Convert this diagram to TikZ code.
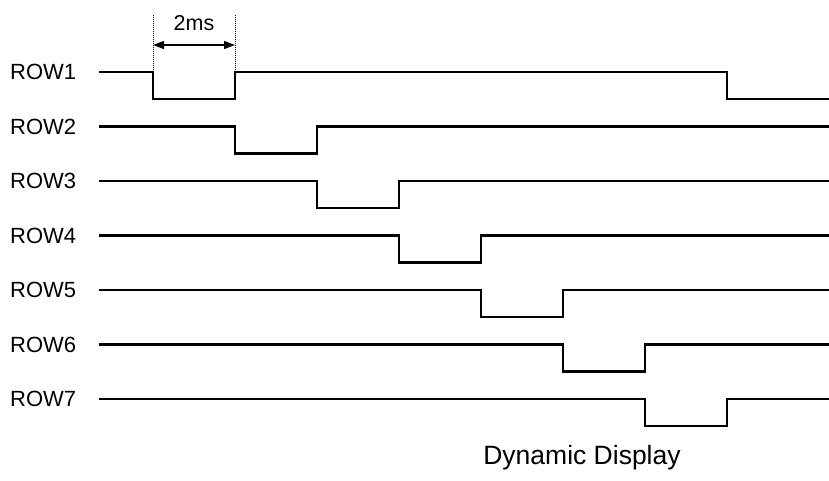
\documentclass[tikz,border=0pt]{standalone}
\usepackage{fontspec}
\setmainfont{Liberation Sans}
\usetikzlibrary{positioning,arrows.meta}

\begin{document}
\begin{tikzpicture}[x=1pt,y=-1pt,
                    rowlabel/.style={anchor=west, inner sep=0pt, font=\fontsize{22}{22}\selectfont},
                    wave/.style={line width=2.7pt, line cap=rect, line join=miter},
                    guide/.style={densely dotted, line width=1pt},
                    span/.style={{Triangle[length=11pt,width=8pt]}-{Triangle[length=11pt,width=8pt]}, line width=1.2pt}
                ]
                    \useasboundingbox (0,0) rectangle (829,480);
                    \node[rowlabel] (row1) at (10,72) {ROW1};
                    \node[rowlabel] (row2) at (10,126.5) {ROW2};
                    \node[rowlabel] (row3) at (10,181) {ROW3};
                    \node[rowlabel] (row4) at (10,235.5) {ROW4};
                    \node[rowlabel] (row5) at (10,290) {ROW5};
                    \node[rowlabel] (row6) at (10,344.5) {ROW6};
                    \node[rowlabel] (row7) at (10,399) {ROW7};

                    \draw[wave] (100,72) -- (153,72) -- (153,99) -- (235,99) -- (235,72) -- (727,72) -- (727,99) -- (829,99);
                    \draw[wave] (100,126.5) -- (235,126.5) -- (235,153.5) -- (317,153.5) -- (317,126.5) -- (829,126.5);
                    \draw[wave] (100,181) -- (317,181) -- (317,208) -- (399,208) -- (399,181) -- (829,181);
                    \draw[wave] (100,235.5) -- (399,235.5) -- (399,262.5) -- (481,262.5) -- (481,235.5) -- (829,235.5);
                    \draw[wave] (100,290) -- (481,290) -- (481,317) -- (563,317) -- (563,290) -- (829,290);
                    \draw[wave] (100,344.5) -- (563,344.5) -- (563,371.5) -- (645,371.5) -- (645,344.5) -- (829,344.5);
                    \draw[wave] (100,399) -- (645,399) -- (645,426) -- (727,426) -- (727,399) -- (829,399);

                    % 2ms marker
                    \coordinate (start) at (153,45);
                    \coordinate (stop) at (235,45);
                    \draw[guide] (153,15) -- (153,71);
                    \draw[guide] (235,15) -- (235,71);
                    \draw[span] (start) -- (stop) node[midway, above=14pt, inner sep=0pt, font=\fontsize{21.5}{21.5}\selectfont] (period) {2ms};

                    \node[font=\fontsize{26.5}{26.5}\selectfont] (title) at (582,458) {Dynamic Display};
                \end{tikzpicture}
\end{document}
